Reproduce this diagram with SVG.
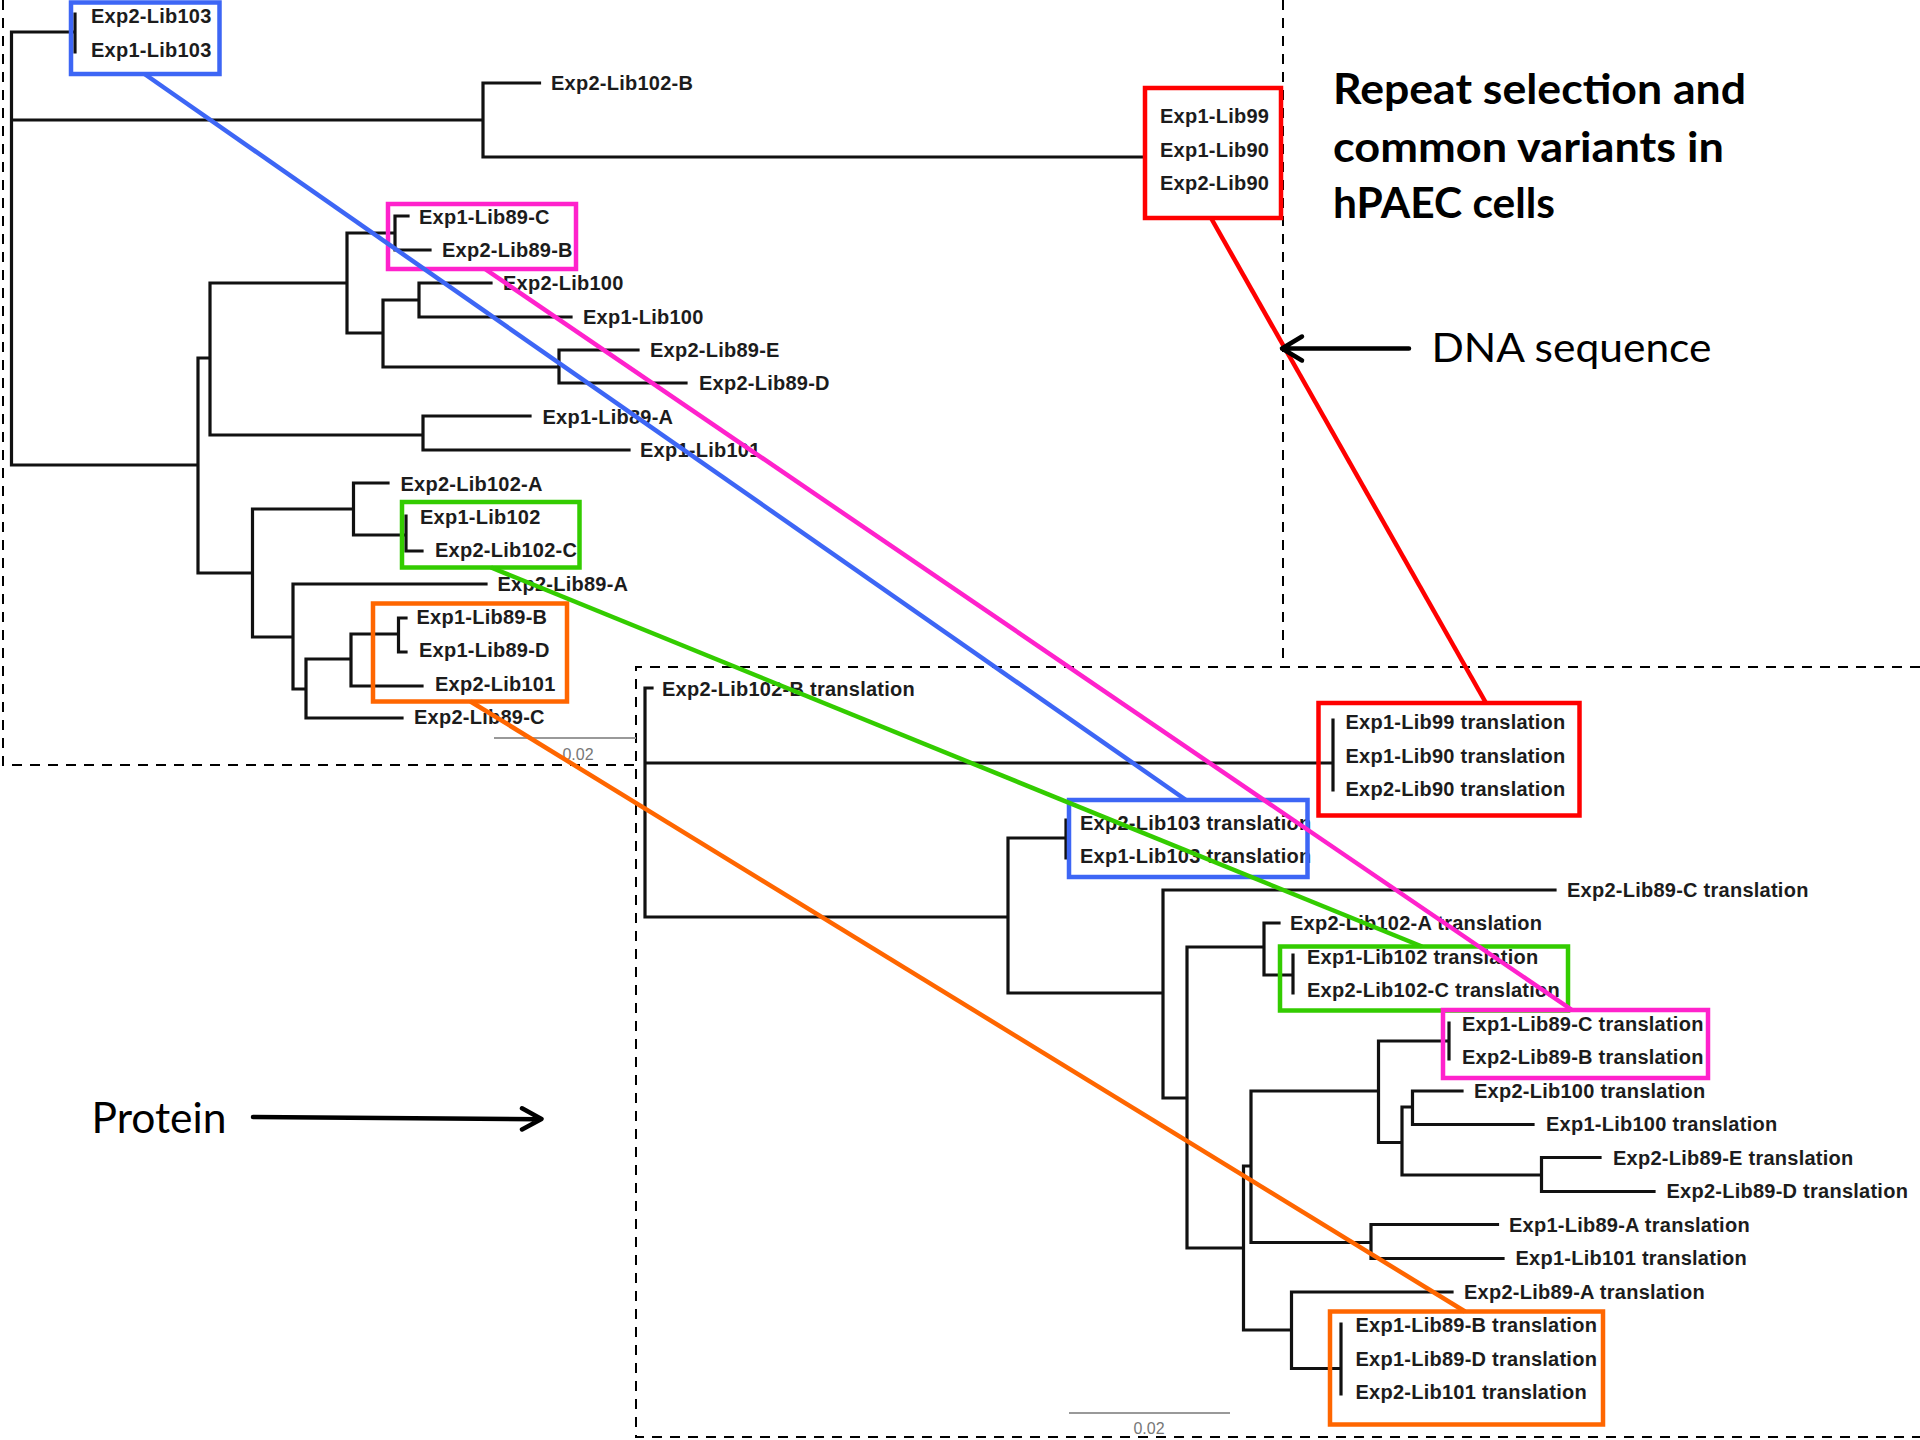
<svg xmlns="http://www.w3.org/2000/svg" width="1920" height="1440" viewBox="0 0 1920 1440">
  <style>
    .frame { fill: none; stroke: #000; stroke-width: 2; stroke-dasharray: 10 8; }
    .branch { fill: none; stroke: #111; stroke-width: 3.2; stroke-linecap: square; }
    .leaf { font-family: "Liberation Sans", Arial, sans-serif; font-weight: bold; font-size: 20px; letter-spacing: 0.25px; fill: #1c1c1c; }
    .scale { fill: none; stroke: #999; stroke-width: 2; }
    .scale-label { font-family: "Liberation Sans", Arial, sans-serif; font-size: 16px; fill: #777; text-anchor: middle; }
    .box { fill: none; stroke-width: 4.5; }
    .link { fill: none; stroke-width: 4.5; }
    .blue { stroke: #3d66f5; }
    .pink { stroke: #ff22cc; }
    .red { stroke: #ff0000; }
    .green { stroke: #33cc00; }
    .orange { stroke: #ff6600; }
    .pointer { fill: none; stroke: #000; stroke-width: 4.5; stroke-linecap: round; stroke-linejoin: round; }
    .caption { font-family: Lato, "Open Sans", "Liberation Sans", sans-serif; fill: #000; }
  </style>

  <rect width="1920" height="1440" fill="#fff"/>

  <!-- dashed panels -->
  <g id="panel-dna">
    <path class="frame" d="M3 0 V765 H636"/>
    <path class="frame" d="M1283 0 V667"/>
  </g>
  <g id="panel-protein">
    <path class="frame" d="M1920 667 H636 V1437 H1920"/>
  </g>

  <!-- DNA sequence tree -->
  <g id="tree-dna">
    <path class="branch" d="
      M11.5 32 V465 M11.5 32 H75 M75 14 V52
      M11.5 120 H483 M483 83 V157 M483 83 H539.5 M483 157 H1145 M1145 112 V186
      M11.5 465 H198 M198 358 V573 M198 358 H210 M210 283 V435
      M210 283 H347 M347 233 V333 M347 233 H395 M395 216 V250 M395 216 H408 M395 250 H430
      M347 333 H383 M383 300 V367 M383 300 H419 M419 283 V317 M419 283 H491 M419 317 H571
      M383 367 H559 M559 350 V383 M559 350 H638 M559 383 H686
      M210 435 H423 M423 416 V450 M423 416 H530 M423 450 H629
      M198 573 H252.5 M252.5 509 V637 M252.5 509 H353.5 M353.5 483 V535 M353.5 483 H388
      M353.5 535 H406 M406 516 V551 M406 551 H422
      M252.5 637 H293 M293 584 V689 M293 584 H486 M293 689 H306 M306 659 V718
      M306 659 H351 M351 634 V686 M351 634 H398.5 M398.5 618 V652 M398.5 618 H406 M398.5 652 H406
      M351 686 H422 M306 718 H402"/>
    <text class="leaf" x="91" y="23.2">Exp2-Lib103</text>
    <text class="leaf" x="91" y="56.6">Exp1-Lib103</text>
    <text class="leaf" x="551" y="90">Exp2-Lib102-B</text>
    <text class="leaf" x="1160" y="123.3">Exp1-Lib99</text>
    <text class="leaf" x="1160" y="156.7">Exp1-Lib90</text>
    <text class="leaf" x="1160" y="190.1">Exp2-Lib90</text>
    <text class="leaf" x="419" y="223.5">Exp1-Lib89-C</text>
    <text class="leaf" x="442" y="256.9">Exp2-Lib89-B</text>
    <text class="leaf" x="503" y="290.2">Exp2-Lib100</text>
    <text class="leaf" x="583" y="323.6">Exp1-Lib100</text>
    <text class="leaf" x="650" y="357">Exp2-Lib89-E</text>
    <text class="leaf" x="699" y="390.4">Exp2-Lib89-D</text>
    <text class="leaf" x="542.5" y="423.8">Exp1-Lib89-A</text>
    <text class="leaf" x="640" y="457.1">Exp1-Lib101</text>
    <text class="leaf" x="400.5" y="490.5">Exp2-Lib102-A</text>
    <text class="leaf" x="420" y="523.9">Exp1-Lib102</text>
    <text class="leaf" x="435" y="557.3">Exp2-Lib102-C</text>
    <text class="leaf" x="497.5" y="590.7">Exp2-Lib89-A</text>
    <text class="leaf" x="416.5" y="624">Exp1-Lib89-B</text>
    <text class="leaf" x="419" y="657.4">Exp1-Lib89-D</text>
    <text class="leaf" x="435" y="690.8">Exp2-Lib101</text>
    <text class="leaf" x="414" y="724.2">Exp2-Lib89-C</text>
    <path class="scale" d="M494 738 H636"/>
    <text class="scale-label" x="578" y="760">0.02</text>
  </g>

  <!-- Protein (translation) tree -->
  <g id="tree-protein">
    <path class="branch" d="
      M645 688 V917 M645 688 H652 M645 763 H1333 M1333 720 V790
      M645 917 H1008 M1008 838 V993 M1008 838 H1066 M1066 820 V858
      M1008 993 H1163 M1163 890 V1098 M1163 890 H1555
      M1163 1098 H1187 M1187 947 V1248 M1187 947 H1264 M1264 923 V975 M1264 923 H1279
      M1264 975 H1293 M1293 955 V993
      M1187 1248 H1243.5 M1243.5 1166 V1330 M1243.5 1166 H1251 M1251 1091 V1242.5
      M1251 1091 H1378.5 M1378.5 1041 V1142.5 M1378.5 1041 H1449 M1449 1023 V1059
      M1378.5 1142.5 H1402 M1402 1107 V1175 M1402 1107 H1412.5 M1412.5 1091 V1124.5
      M1412.5 1091 H1462 M1412.5 1124.5 H1533
      M1402 1175 H1541.5 M1541.5 1157.5 V1191.5 M1541.5 1157.5 H1600 M1541.5 1191.5 H1654
      M1251 1242.5 H1371 M1371 1224.5 V1258.5 M1371 1224.5 H1497.5 M1371 1258.5 H1503
      M1243.5 1330 H1291.5 M1291.5 1292 V1368.5 M1291.5 1292 H1452 M1291.5 1368.5 H1341 M1341 1324 V1394"/>
    <text class="leaf" x="662" y="695.7">Exp2-Lib102-B translation</text>
    <text class="leaf" x="1345.5" y="729.2">Exp1-Lib99 translation</text>
    <text class="leaf" x="1345.5" y="762.7">Exp1-Lib90 translation</text>
    <text class="leaf" x="1345.5" y="796.2">Exp2-Lib90 translation</text>
    <text class="leaf" x="1080" y="829.7">Exp2-Lib103 translation</text>
    <text class="leaf" x="1080" y="863.2">Exp1-Lib103 translation</text>
    <text class="leaf" x="1567" y="896.7">Exp2-Lib89-C translation</text>
    <text class="leaf" x="1290" y="930.2">Exp2-Lib102-A translation</text>
    <text class="leaf" x="1307" y="963.7">Exp1-Lib102 translation</text>
    <text class="leaf" x="1307" y="997.2">Exp2-Lib102-C translation</text>
    <text class="leaf" x="1462" y="1030.7">Exp1-Lib89-C translation</text>
    <text class="leaf" x="1462" y="1064.2">Exp2-Lib89-B translation</text>
    <text class="leaf" x="1474" y="1097.7">Exp2-Lib100 translation</text>
    <text class="leaf" x="1546" y="1131.2">Exp1-Lib100 translation</text>
    <text class="leaf" x="1613" y="1164.7">Exp2-Lib89-E translation</text>
    <text class="leaf" x="1666.5" y="1198.2">Exp2-Lib89-D translation</text>
    <text class="leaf" x="1509" y="1231.7">Exp1-Lib89-A translation</text>
    <text class="leaf" x="1515.5" y="1265.2">Exp1-Lib101 translation</text>
    <text class="leaf" x="1464" y="1298.7">Exp2-Lib89-A translation</text>
    <text class="leaf" x="1355.5" y="1332.2">Exp1-Lib89-B translation</text>
    <text class="leaf" x="1355.5" y="1365.7">Exp1-Lib89-D translation</text>
    <text class="leaf" x="1355.5" y="1399.2">Exp2-Lib101 translation</text>
    <path class="scale" d="M1069 1413 H1230"/>
    <text class="scale-label" x="1149" y="1434">0.02</text>
  </g>

  <!-- highlighted clades, DNA tree -->
  <g id="dna-lib103"><rect class="box blue" x="71" y="2.5" width="148.5" height="71.5"/></g>
  <g id="dna-lib89-c"><rect class="box pink" x="388" y="204" width="188" height="65"/></g>
  <g id="dna-lib99-90"><rect class="box red" x="1145" y="88" width="136" height="130"/></g>
  <g id="dna-lib102"><rect class="box green" x="402" y="502" width="177.5" height="65.5"/></g>
  <g id="dna-lib89-b"><rect class="box orange" x="373" y="603.5" width="194" height="98"/></g>

  <!-- highlighted clades, protein tree -->
  <g id="protein-lib99-90"><rect class="box red" x="1318.5" y="703" width="261" height="112.5"/></g>
  <g id="protein-lib103"><rect class="box blue" x="1069" y="800" width="238.5" height="77"/></g>
  <g id="protein-lib102"><rect class="box green" x="1280" y="946.5" width="288" height="64"/></g>
  <g id="protein-lib89-c"><rect class="box pink" x="1443" y="1010" width="265" height="68"/></g>
  <g id="protein-lib89-b"><rect class="box orange" x="1330" y="1311.5" width="273" height="113"/></g>

  <!-- links between matching clades -->
  <g id="connectors">
    <line class="link blue" x1="144.5" y1="74" x2="1186" y2="800"/>
    <line class="link pink" x1="485" y1="269" x2="1572" y2="1010"/>
    <line class="link green" x1="491" y1="567.5" x2="1422" y2="946.5"/>
    <line class="link orange" x1="470.5" y1="701.5" x2="1465" y2="1311.5"/>
    <line class="link red" x1="1211" y1="218" x2="1486" y2="703"/>
    <path class="pointer" d="M1409 348.5 H1284 M1302 336.5 L1282 348.5 L1302 360.5"/>
    <path class="pointer" d="M253 1117 L539 1119.2 M522 1108.3 L541.5 1119 L522 1129.5"/>
  </g>

  <!-- captions -->
  <g id="title">
    <text class="caption" font-weight="bold" font-size="42" x="1333" y="104.3" textLength="413" lengthAdjust="spacingAndGlyphs">Repeat selection and</text>
    <text class="caption" font-weight="bold" font-size="42" x="1333" y="161.7" textLength="391" lengthAdjust="spacingAndGlyphs">common variants in</text>
    <text class="caption" font-weight="bold" font-size="42" x="1333" y="218.3" textLength="222" lengthAdjust="spacingAndGlyphs">hPAEC cells</text>
  </g>
  <g id="label-dna">
    <text class="caption" font-size="41" x="1431.5" y="361.7" textLength="280" lengthAdjust="spacingAndGlyphs">DNA sequence</text>
  </g>
  <g id="label-protein">
    <text class="caption" font-size="42" x="91.5" y="1133.3" textLength="135" lengthAdjust="spacingAndGlyphs">Protein</text>
  </g>
</svg>
